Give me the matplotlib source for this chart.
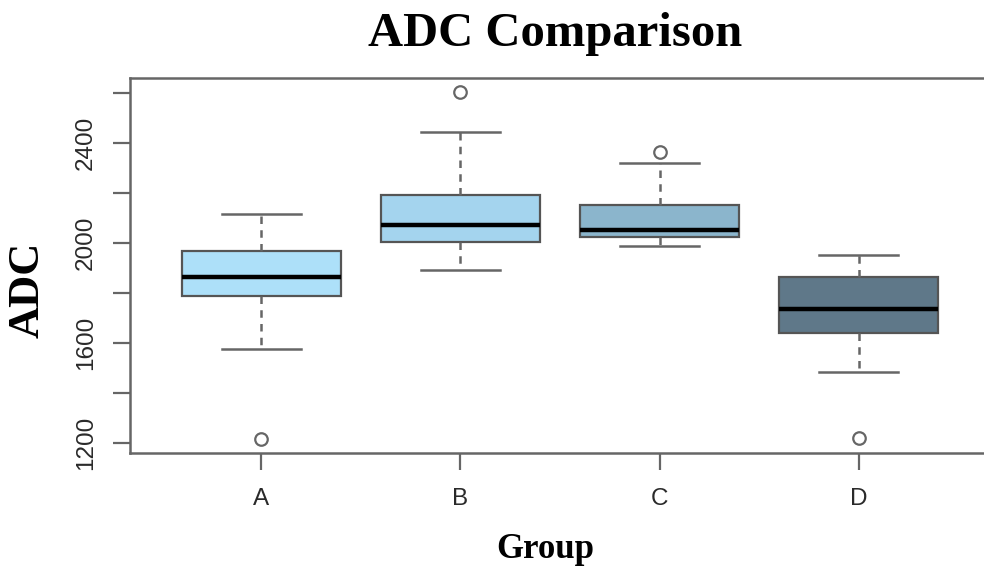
import matplotlib
matplotlib.use("Agg")
import matplotlib.pyplot as plt

groups = ["A", "B", "C", "D"]
q1 = [1788, 2004, 2024, 1640]
medians = [1864, 2072, 2052, 1736]
q3 = [1968, 2192, 2152, 1864]
whisker_low = [1576, 1892, 1988, 1484]
whisker_high = [2116, 2444, 2320, 1952]
outliers = [[1216], [2604], [2364], [1220]]
colors = ["#ADE0F9", "#A4D4EE", "#8BB5CC", "#5F7889"]
yticks = [1200, 1400, 1600, 1800, 2000, 2200, 2400, 2600]
ylabels = ["1200", "", "1600", "", "2000", "", "2400", ""]

W, H = 984, 567
fig = plt.figure(figsize=(W / 100, H / 100), dpi=100)
left, right, top, bottom = 130, 990, 78, 453
ax = fig.add_axes([left / W, 1 - bottom / H, (right - left) / W, (bottom - top) / H])

stats = []
for i, g in enumerate(groups):
    stats.append(dict(label=g, med=medians[i], q1=q1[i], q3=q3[i],
                      whislo=whisker_low[i], whishi=whisker_high[i],
                      fliers=outliers[i]))

bp = ax.bxp(stats, positions=range(1, len(groups) + 1), widths=0.8,
            patch_artist=True, showfliers=True,
            boxprops=dict(edgecolor="#555555", linewidth=1.6),
            medianprops=dict(color="black", linewidth=3.2, solid_capstyle="butt"),
            whiskerprops=dict(color="#666666", linewidth=1.8, linestyle=(0, (3, 2.5))),
            capprops=dict(color="#666666", linewidth=1.8),
            flierprops=dict(marker="o", markersize=9, markerfacecolor="none",
                            markeredgecolor="#666666", markeredgewidth=1.6, linestyle="none"),
            capwidths=0.4)
for patch, c in zip(bp["boxes"], colors):
    patch.set_facecolor(c)

ax.set_xlim(0.34, 4.66)
ax.set_ylim(1160, 2660)
ax.set_yticks(yticks)
ax.set_yticklabels(ylabels, rotation=90, va="center", fontsize=17.5,
                   family="Liberation Sans", color="#2a2a2a")
ax.set_xticks(range(1, len(groups) + 1))
ax.set_xticklabels(groups, fontsize=17.5, family="Liberation Sans", color="#2a2a2a")
ax.tick_params(axis="y", length=12, width=1.6, color="#666666", pad=12)
ax.tick_params(axis="x", length=12, width=1.6, color="#666666", pad=13)
for s in ax.spines.values():
    s.set_color("#666666")
    s.set_linewidth(1.8)

fig.text(555 / W, 1 - 46 / H, "ADC Comparison", ha="center", va="baseline",
         fontsize=35, fontweight="bold", family="Liberation Serif")
fig.text(545 / W, 1 - 558 / H, "Group", ha="center", va="baseline",
         fontsize=25, fontweight="bold", family="Liberation Serif")
fig.text(48 / W, 1 - 290 / H, "ADC", ha="right", va="center", rotation=90,
         fontsize=32, fontweight="bold", family="Liberation Serif")

fig.savefig("out.png", dpi=100)
